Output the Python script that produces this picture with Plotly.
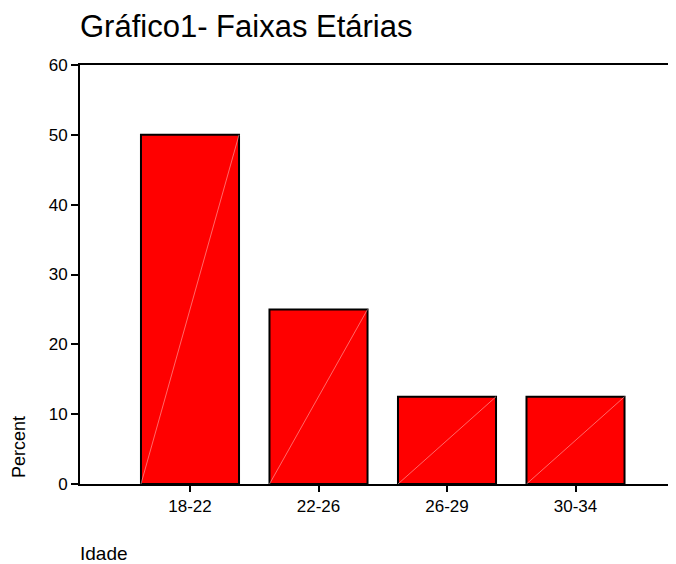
import plotly.graph_objects as go

categories = ["18-22", "22-26", "26-29", "30-34"]
percent = [50.0, 25.0, 12.5, 12.5]
y_ticks = [0, 10, 20, 30, 40, 50, 60]

positions = list(range(len(categories)))
bar_width = 0.763

fig = go.Figure()
fig.add_trace(go.Bar(
    x=positions, y=percent, width=bar_width,
    marker=dict(color="#FF0000", line=dict(color="black", width=2)),
    showlegend=False, hoverinfo="x+y"))

# faint diagonal rendering lines inside bars (from original chart)
for p, v in zip(positions, percent):
    fig.add_trace(go.Scatter(
        x=[p - bar_width / 2, p + bar_width / 2], y=[0, v], mode="lines",
        line=dict(color="rgba(255,190,190,0.55)", width=1),
        showlegend=False, hoverinfo="skip"))

font_family = "Liberation Sans, Arial, sans-serif"
fig.update_layout(
    width=668, height=556,
    margin=dict(l=72, r=0, t=57, b=80),
    paper_bgcolor="white", plot_bgcolor="white",
    font=dict(family=font_family, color="black", size=17),
    xaxis=dict(range=[-0.856, 3.782], tickvals=positions, ticktext=categories,
               showline=True, linecolor="black", linewidth=2, mirror=True,
               ticks="outside", ticklen=6, tickwidth=1.5, tickcolor="black",
               showgrid=False, zeroline=False, tickfont=dict(size=17)),
    yaxis=dict(range=[0, 60], tickvals=y_ticks,
               showline=True, linecolor="black", linewidth=2,
               ticks="outside", ticklen=7, tickwidth=1.5, tickcolor="black",
               showgrid=False, zeroline=False, tickfont=dict(size=17)),
    annotations=[
        dict(text="Gráfico1- Faixas Etárias", xref="paper", yref="paper",
             x=0, y=1, xanchor="left", yanchor="bottom", yshift=19, xshift=-2,
             showarrow=False, font=dict(size=31, family=font_family)),
        dict(text="Percent", xref="paper", yref="paper", x=0, y=0,
             xanchor="center", yanchor="bottom", xshift=-61, yshift=4,
             textangle=-90, showarrow=False, font=dict(size=18)),
        dict(text="Idade", xref="paper", yref="paper", x=0, y=0,
             xanchor="left", yanchor="top", yshift=-57, xshift=-2,
             showarrow=False, font=dict(size=19)),
    ],
)

fig.write_html("out.html")
